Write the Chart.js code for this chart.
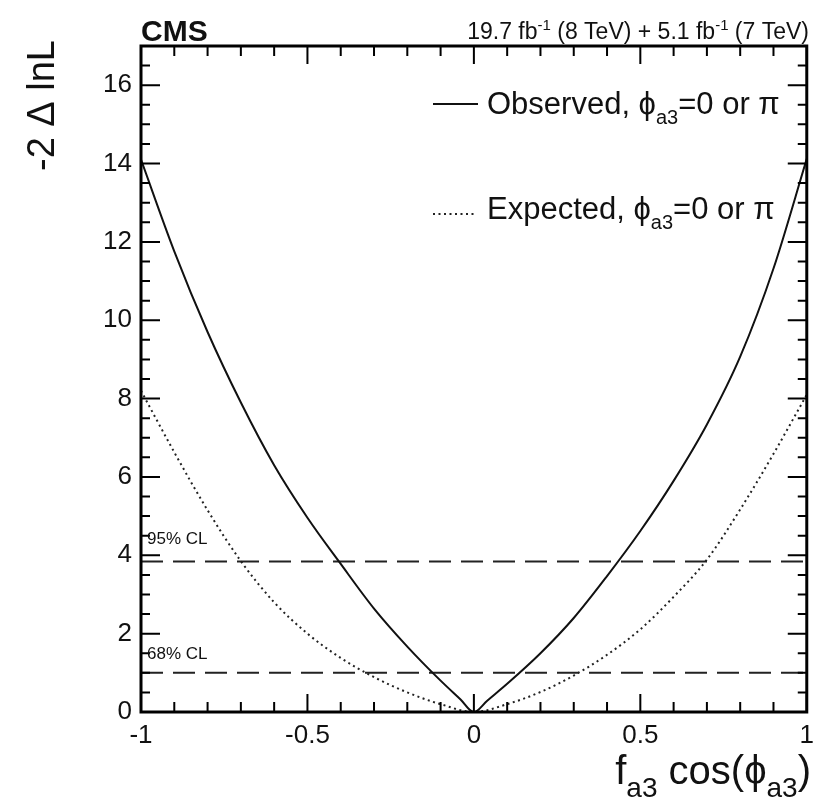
<!DOCTYPE html>
<html>
<head>
<meta charset="utf-8">
<script src="https://cdn.jsdelivr.net/npm/chart.js@4.4.1/dist/chart.umd.min.js"></script>
<style>
  html, body { margin: 0; padding: 0; background: #fff; }
  #wrap { width: 822px; height: 807px; }
</style>
</head>
<body>
<div id="wrap"><canvas id="nllChart" width="822" height="807"></canvas></div>
<script>
// values
var xObserved = [-1, -0.9, -0.8, -0.7, -0.6, -0.5, -0.4, -0.3, -0.2, -0.1, -0.04, 0,
                 0.04, 0.1, 0.2, 0.3, 0.4, 0.5, 0.6, 0.7, 0.8, 0.9, 1];
var yObserved = [14.1, 11.76, 9.7, 7.9, 6.3, 4.96, 3.78, 2.64, 1.67, 0.8, 0.32, 0,
                 0.29, 0.72, 1.5, 2.4, 3.47, 4.62, 5.9, 7.34, 9.07, 11.32, 14.12];

var xExpected = [-1, -0.9, -0.8, -0.7, -0.6, -0.5, -0.4, -0.3, -0.2, -0.1, 0,
                 0.1, 0.2, 0.3, 0.4, 0.5, 0.6, 0.7, 0.8, 0.9, 1];
var yExpected = [8.2, 6.63, 5.15, 3.85, 2.8, 2.0, 1.38, 0.89, 0.5, 0.2, 0,
                 0.2, 0.51, 0.93, 1.46, 2.11, 2.94, 3.89, 5.17, 6.59, 8.1];

var clLevels = [3.84, 1.0];
var clLabels = ['95% CL', '68% CL'];
var clLabelY = [4.45, 1.5];

var xTickValues = [-1, -0.5, 0, 0.5, 1];
var yTickStep = 2;

var FONT = '"Liberation Sans", Arial, Helvetica, sans-serif';
var INK = '#111';
var PHI = '\u03d5';

function toPoints(xs, ys) {
    return xs.map(function(x, i) { return { x: x, y: ys[i] }; });
}

// draw a run of text pieces: [text, size, dy, bold]
function drawPieces(ctx, pieces, x, y, align) {
    var total = 0;
    pieces.forEach(function(p) {
        ctx.font = (p[3] ? 'bold ' : '') + p[1] + 'px ' + FONT;
        total += ctx.measureText(p[0]).width;
    });
    var cx = align === 'right' ? x - total : x;
    ctx.textAlign = 'left';
    ctx.textBaseline = 'alphabetic';
    pieces.forEach(function(p) {
        ctx.font = (p[3] ? 'bold ' : '') + p[1] + 'px ' + FONT;
        ctx.fillText(p[0], cx, y + p[2]);
        cx += ctx.measureText(p[0]).width;
    });
}

var datasets = [
    {
        label: 'Observed',
        data: toPoints(xObserved, yObserved),
        borderColor: '#111',
        borderWidth: 2,
        cubicInterpolationMode: 'monotone'
    },
    {
        label: 'Expected',
        data: toPoints(xExpected, yExpected),
        borderColor: '#222',
        borderWidth: 2,
        borderDash: [2, 3.5],
        cubicInterpolationMode: 'monotone'
    }
];
clLevels.forEach(function(level, i) {
    datasets.push({
        label: clLabels[i],
        data: [{ x: -1, y: level }, { x: 1, y: level }],
        borderColor: '#222',
        borderWidth: 2,
        borderDash: [22, 10]
    });
});

var framePlugin = {
    id: 'cmsFrame',
    afterDraw: function(chart) {
        var ctx = chart.ctx;
        var area = chart.chartArea;
        var xs = chart.scales.x;
        var ys = chart.scales.y;
        ctx.save();
        ctx.fillStyle = INK;
        ctx.strokeStyle = '#000';

        // inward ticks on all four sides
        ctx.lineWidth = 2;
        ctx.beginPath();
        for (var i = -10; i <= 10; i++) {
            var px = xs.getPixelForValue(i / 10);
            var len = (i % 5 === 0) ? 18 : 10;
            ctx.moveTo(px, area.bottom); ctx.lineTo(px, area.bottom - len);
            ctx.moveTo(px, area.top); ctx.lineTo(px, area.top + len);
        }
        for (var j = 1; j < 34; j++) {
            var v = j / 2;
            var py = ys.getPixelForValue(v);
            var l2 = (v % yTickStep === 0) ? 19 : 9;
            ctx.moveTo(area.left, py); ctx.lineTo(area.left + l2, py);
            ctx.moveTo(area.right, py); ctx.lineTo(area.right - l2, py);
        }
        ctx.stroke();

        // frame
        ctx.lineWidth = 3;
        ctx.strokeRect(area.left, area.top, area.right - area.left, area.bottom - area.top);

        // CL labels
        clLabels.forEach(function(t, k) {
            drawPieces(ctx, [[t, 17, 0]], area.left + 6, ys.getPixelForValue(clLabelY[k]) + 6, 'left');
        });

        // legend
        ctx.lineWidth = 2;
        ctx.strokeStyle = '#111';
        ctx.beginPath();
        ctx.moveTo(433, 104); ctx.lineTo(478, 104);
        ctx.stroke();
        ctx.strokeStyle = '#222';
        ctx.setLineDash([2, 3.5]);
        ctx.beginPath();
        ctx.moveTo(433, 214); ctx.lineTo(476, 214);
        ctx.stroke();
        ctx.setLineDash([]);
        drawPieces(ctx, [['Observed, ', 31, 0], [PHI, 31, 0], ['a3', 20, 10], ['=0 or \u03c0', 31, 0]], 487, 114, 'left');
        drawPieces(ctx, [['Expected, ', 31, 0], [PHI, 31, 0], ['a3', 20, 10], ['=0 or \u03c0', 31, 0]], 487, 219, 'left');

        // header
        drawPieces(ctx, [['CMS', 30, 0, true]], 141, 41, 'left');
        drawPieces(ctx, [['19.7 fb', 23, 0], ['-1', 15, -9], [' (8 TeV) + 5.1 fb', 23, 0], ['-1', 15, -9], [' (7 TeV)', 23, 0]],
            809, 39, 'right');

        // x title
        drawPieces(ctx, [['f', 40, 0], ['a3', 28, 13], [' cos(', 40, 0], [PHI, 40, 0], ['a3', 28, 13], [')', 40, 0]],
            811, 784, 'right');

        // y title
        ctx.translate(54, 40);
        ctx.rotate(-Math.PI / 2);
        ctx.font = '38px ' + FONT;
        ctx.textAlign = 'right';
        ctx.textBaseline = 'alphabetic';
        ctx.fillText('-2 \u0394 lnL', 0, 0);
        ctx.restore();
    }
};

var ctx = document.getElementById('nllChart').getContext('2d');
var nllChart = new Chart(ctx, {
    type: 'scatter',
    data: { datasets: datasets },
    options: {
        responsive: false,
        animation: false,
        showLine: true,
        elements: { point: { radius: 0 } },
        layout: { padding: { top: 46, right: 14, bottom: 0, left: 0 } },
        plugins: {
            legend: { display: false },
            tooltip: { enabled: false }
        },
        scales: {
            x: {
                type: 'linear',
                min: -1,
                max: 1,
                afterFit: function(scale) { scale.height = 95; },
                afterBuildTicks: function(scale) {
                    scale.ticks = xTickValues.map(function(v) { return { value: v }; });
                },
                grid: { display: false, drawTicks: false },
                border: { display: false },
                ticks: {
                    autoSkip: false,
                    maxRotation: 0,
                    padding: 8,
                    color: INK,
                    font: { size: 26, family: FONT },
                    callback: function(v) { return String(v); }
                }
            },
            y: {
                type: 'linear',
                min: 0,
                max: 17,
                afterFit: function(scale) { scale.width = 141; },
                grid: { display: false, drawTicks: false },
                border: { display: false },
                ticks: {
                    stepSize: yTickStep,
                    autoSkip: false,
                    padding: 9,
                    color: INK,
                    font: { size: 26, family: FONT },
                    callback: function(v) { return v % yTickStep === 0 ? String(v) : ''; }
                }
            }
        }
    },
    plugins: [framePlugin]
});
</script>
</body>
</html>
